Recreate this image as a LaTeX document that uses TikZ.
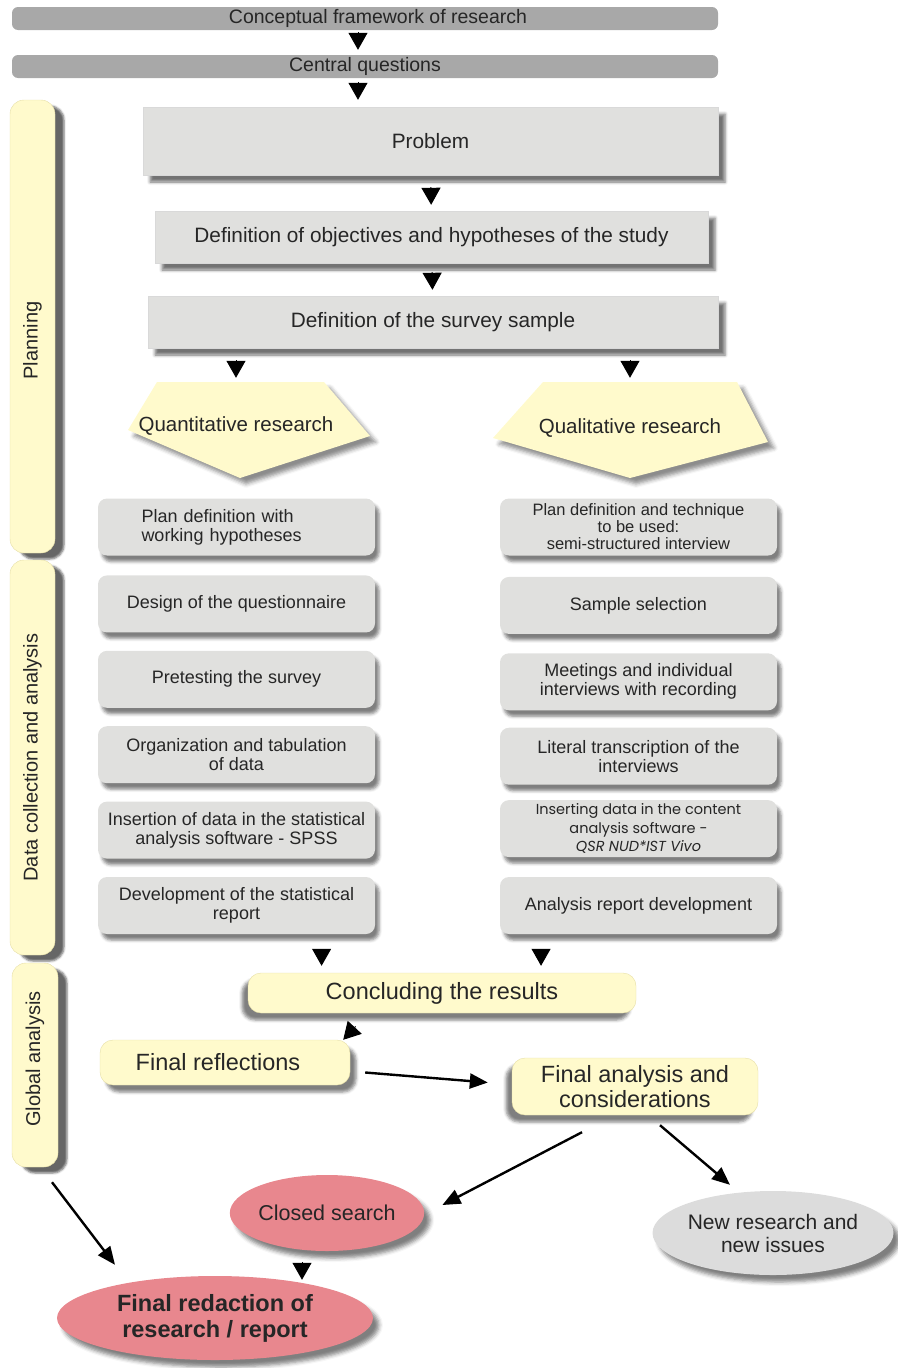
\documentclass[tikz,border=0pt]{standalone}
\usepackage{fontspec}
\setmainfont{Liberation Sans}
\newfontfamily\gothic{Poppins}
\usetikzlibrary{positioning, shapes.geometric, shadows.blur, calc, arrows.meta}

\definecolor{bargray}{HTML}{A8A8A8}
\definecolor{boxgray}{HTML}{E0E0DE}
\definecolor{paleyellow}{HTML}{FFFACC}
\definecolor{yellowedge}{HTML}{E6DEA6}
\definecolor{rosepink}{HTML}{E8878E}
\definecolor{ellgray}{HTML}{DCDCDC}

\begin{document}
\begin{tikzpicture}[x=1pt, y=-1pt,
  txt/.style={text=black!85},
  bar/.style={txt, fill=bargray, rounded corners=6pt, minimum width=706pt, minimum height=23pt, inner sep=0pt, font=\fontsize{19.5}{20}\selectfont},
  bigbox/.style={txt, fill=boxgray, draw=black!15, inner sep=0pt, font=\fontsize{20.8}{22}\selectfont, blur shadow={shadow xshift=7pt, shadow yshift=-7pt, shadow blur radius=3pt, shadow opacity=55}},
  side/.style={fill=paleyellow, draw=yellowedge, rounded corners=14pt, minimum width=45pt, inner sep=0pt, blur shadow={shadow xshift=9pt, shadow yshift=-6pt, shadow blur radius=2pt, shadow opacity=60}},
  sidetext/.style={txt, rotate=90, font=\fontsize{20}{22}\selectfont},
  penta/.style={fill=paleyellow, blur shadow={shadow xshift=6pt, shadow yshift=-6pt, shadow blur radius=4pt, shadow opacity=45}},
  stepbox/.style={txt, fill=boxgray, rounded corners=9pt, minimum width=277pt, minimum height=57pt, inner sep=2pt, align=center, font=\fontsize{18}{19}\selectfont, blur shadow={shadow xshift=4pt, shadow yshift=-6pt, shadow blur radius=3pt, shadow opacity=50}},
  ybox/.style={txt, fill=paleyellow, draw=yellowedge, rounded corners=13pt, inner sep=0pt, align=center, font=\fontsize{23.5}{25}\selectfont},
  ell/.style={ellipse, txt, inner sep=0pt, align=center, blur shadow={shadow xshift=6pt, shadow yshift=-7pt, shadow blur radius=4pt, shadow opacity=50}},
  tip/.style={-{Triangle[width=19pt,length=17pt,fill=black]}, color=black, opacity=1, line width=1pt},
  arr/.style={-{Triangle[width=15pt,length=18pt,fill=black]}, color=black, opacity=1, line width=2.4pt}
]
  \useasboundingbox (0,0) rectangle (897,1368);

  \node[bar] (bar1) at (365,18.5) {\hspace{26pt}Conceptual framework of research};
  \node[bar] (bar2) at (365,66.5) {Central questions\hspace{28pt}};

  \node[side, minimum height=453pt, label={[sidetext, xshift=-14pt]center:Planning}] (plan) at (32.5,326.5) {};
  \node[side, minimum height=395pt, label={[sidetext]center:Data collection and analysis}] (data) at (32.5,757.5) {};
  \node[side, minimum height=204pt, minimum width=46pt, label={[sidetext, xshift=6pt]center:Global analysis}] (glob) at (35,1065) {};

  \node[bigbox, minimum width=575pt, minimum height=68pt] (prob) at (430.5,141) {Problem};
  \node[bigbox, minimum width=553pt, minimum height=52pt] (obj) at (431.5,237) {Definition of objectives and hypotheses of the study};
  \node[bigbox, minimum width=570pt, minimum height=52pt] (samp) at (433,322) {Definition of the survey sample};

  % the two research branches
  \coordinate (qn) at (236,426);
  \coordinate (ql) at (630,428);
  \path[penta] ($(qn)+(-79,-44)$) -- ($(qn)+(88,-44)$) -- ($(qn)+(134,10)$) -- ($(qn)+(4,52)$) -- ($(qn)+(-108,4)$) -- cycle;
  \path[penta] ($(ql)+(-87,-46)$) -- ($(ql)+(107,-46)$) -- ($(ql)+(138,14)$) -- ($(ql)+(0,50)$) -- ($(ql)+(-137,10)$) -- cycle;
  \node[txt, minimum height=88pt, font=\fontsize{20.5}{22}\selectfont] (quan) at (qn) {Quantitative research};
  \node[txt, minimum height=92pt, font=\fontsize{20.5}{22}\selectfont] (qual) at (ql) {Qualitative research};

  % quantitative column
  \node[stepbox, text width=190pt, align=left] (l1) at (236.5,527) {Plan definition with\\working hypotheses};
  \node[stepbox] (l2) [below=19.5pt of l1] {Design of the questionnaire};
  \node[stepbox] (l3) [below=18pt of l2] {Pretesting the survey};
  \node[stepbox] (l4) [below=18pt of l3] {Organization and tabulation\\of data};
  \node[stepbox] (l5) [below=18pt of l4] {Insertion of data in the statistical\\analysis software - SPSS};
  \node[stepbox] (l6) [below=18pt of l5] {Development of the statistical\\report};

  % qualitative column
  \node[stepbox, font=\fontsize{16.5}{17}\selectfont] (r1) at (638.5,527) {Plan definition and technique\\to be used:\\semi-structured interview};
  \node[stepbox] (r2) [below=21pt of r1] {Sample selection};
  \node[stepbox] (r3) [below=19pt of r2] {Meetings and individual\\interviews with recording};
  \node[stepbox] (r4) [below=17pt of r3] {Literal transcription of the\\interviews};
  \node[stepbox, font=\gothic\fontsize{14.5}{18.5}\selectfont] (r5) [below=15pt of r4] {Inserting data in the content\\analysis software -\\\textit{QSR NUD*IST Vivo}};
  \node[stepbox] (r6) [below=19.5pt of r5] {Analysis report development};

  \node[ybox, minimum width=388pt, minimum height=40pt, blur shadow={shadow xshift=-6pt, shadow yshift=-7pt, shadow blur radius=3pt, shadow opacity=50}] (concl) at (442,993) {Concluding the results};
  \node[ybox, minimum width=250pt, minimum height=45pt, blur shadow={shadow xshift=6pt, shadow yshift=-7pt, shadow blur radius=3pt, shadow opacity=50}] (refl) at (225,1062.5) {Final reflections\hspace{14pt}};
  \node[ybox, minimum width=246pt, minimum height=57pt, blur shadow={shadow xshift=-6pt, shadow yshift=-7pt, shadow blur radius=3pt, shadow opacity=50}] (fan) at (635,1086.5) {Final analysis and\\considerations};

  \node[ell, fill=rosepink, minimum width=194pt, minimum height=76pt, font=\fontsize{21.5}{23}\selectfont] (closed) at (327,1213) {Closed search};
  \node[ell, fill=ellgray, minimum width=230pt, minimum height=84pt, font=\fontsize{21}{23}\selectfont] (newres) at (773,1233) {New research and\\new issues};
  \node[ell, fill=rosepink, minimum width=316pt, minimum height=84pt, font=\bfseries\fontsize{23.5}{26}\selectfont] (final) at (215,1318) {Final redaction of\\research / report};

  \coordinate (tx) at ($(bar1.south)+(-7,0)$);
  \coordinate (cl) at ($(concl.north west)!0.19!(concl.north east)$);
  \coordinate (cr) at ($(concl.north west)!0.755!(concl.north east)$);
  \coordinate (cs) at ($(closed.south)+(-25,0)$);

  \path[tip]
  (tx) edge [shorten <=2pt, shorten >=5pt] (tx |- bar2.north)
  (tx |- bar2.south) edge [shorten <=4pt, shorten >=7pt] (tx |- prob.north)
  (prob) edge [shorten <=12pt, shorten >=6pt] (obj)
  (obj) edge [shorten <=9pt, shorten >=6pt] (samp)
  (samp.south -| quan.north) edge [shorten <=12pt, shorten >=4pt] (quan.north)
  (samp.south -| qual.north) edge [shorten <=12pt, shorten >=4pt] (qual.north)
  (l6.south -| cl) edge [shorten <=16pt, shorten >=7pt] (cl)
  (r6.south -| cr) edge [shorten <=16pt, shorten >=7pt] (cr)
  ($(concl.south west)+(120,0)$) edge [shorten <=18pt] ($(refl.north east)+(-7,0)$)
  (cs) edge [shorten <=11pt, shorten >=-4pt] (cs |- final.north);

  \path[arr]
  ($(refl.east)+(15,10)$) edge ($(fan.west)+(-24,-4)$)
  ($(fan.south)+(-53,17)$) edge ($(closed.east)+(18,-8)$)
  ($(fan.south)+(25,10)$) edge ($(newres.north)+(-43,-6)$)
  ($(glob.south)+(17,15)$) edge ($(final.north)+(-100,-11)$);
\end{tikzpicture}
\end{document}
